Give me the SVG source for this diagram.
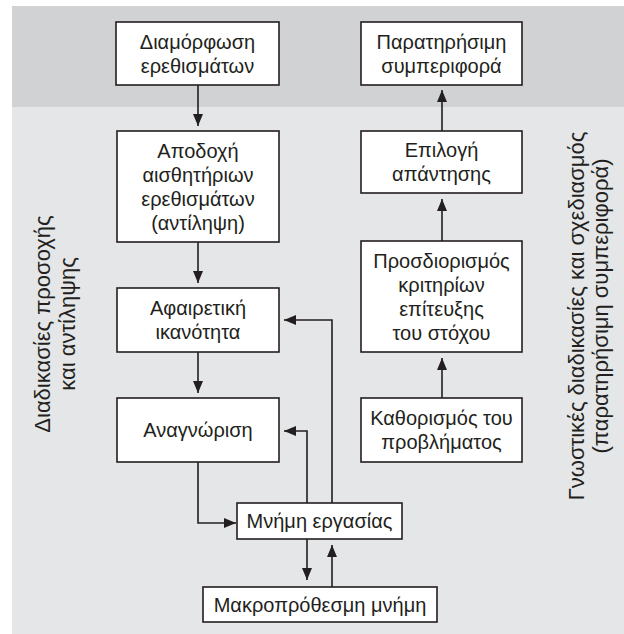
<svg xmlns="http://www.w3.org/2000/svg" width="624" height="634" viewBox="0 0 624 634">
<style>
.box{fill:#ffffff;stroke:#231f20;stroke-width:1.6}
.t{font-family:"Liberation Sans",Arial,sans-serif;font-size:20px;fill:#231f20;text-anchor:middle}
.side{font-family:"Liberation Sans",Arial,sans-serif;font-size:22px;fill:#231f20;text-anchor:middle}
.c{fill:none;stroke:#231f20;stroke-width:1.6}
</style>
<defs>
<marker id="ah" markerUnits="userSpaceOnUse" markerWidth="12" markerHeight="10" refX="12" refY="5" orient="auto">
<path d="M0,0 L12,5 L0,10 z" fill="#231f20"/>
</marker>
</defs>
<rect x="0" y="0" width="624" height="634" fill="#ffffff"/>
<rect x="12" y="6" width="612" height="628" fill="#e5e6e7"/>
<rect x="12" y="6" width="612" height="101" fill="#d1d2d4"/>

<g id="side-left">
<text class="side" transform="translate(50,324) rotate(-90)">Διαδικασίες προσοχής</text>
<text class="side" transform="translate(75,324) rotate(-90)">και αντίληψης</text>
</g>
<g id="side-right">
<text class="side" transform="translate(584,316) rotate(-90)">Γνωστικές διαδικασίες και σχεδιασμός</text>
<text class="side" transform="translate(608,306) rotate(-90)">(παρατηρήσιμη συμπεριφορά)</text>
</g>

<g id="connectors">
<path class="c" d="M198,85 V126" marker-end="url(#ah)"/>
<path class="c" d="M198,242 V283" marker-end="url(#ah)"/>
<path class="c" d="M198,352 V393" marker-end="url(#ah)"/>
<path class="c" d="M198,462 V523 H236" marker-end="url(#ah)"/>
<path class="c" d="M307,503 V431 H284" marker-end="url(#ah)"/>
<path class="c" d="M332,503 V320 H284" marker-end="url(#ah)"/>
<path class="c" d="M307,539 V580" marker-end="url(#ah)"/>
<path class="c" d="M332,587 V545" marker-end="url(#ah)"/>
<path class="c" d="M442,398 V358" marker-end="url(#ah)"/>
<path class="c" d="M442,241 V199" marker-end="url(#ah)"/>
<path class="c" d="M442,131 V90" marker-end="url(#ah)"/>
</g>

<g id="n-diamorfosi">
<rect class="box" x="116" y="22" width="163" height="63"/>
<text class="t" x="197.5" y="48.5">Διαμόρφωση</text>
<text class="t" x="197.5" y="72.5">ερεθισμάτων</text>
</g>
<g id="n-apodoxi">
<rect class="box" x="117" y="131" width="162" height="111"/>
<text class="t" x="198" y="157.5">Αποδοχή</text>
<text class="t" x="198" y="181.5">αισθητήριων</text>
<text class="t" x="198" y="205.5">ερεθισμάτων</text>
<text class="t" x="198" y="229.5">(αντίληψη)</text>
</g>
<g id="n-afairetiki">
<rect class="box" x="117" y="288" width="162" height="64"/>
<text class="t" x="198" y="315">Αφαιρετική</text>
<text class="t" x="198" y="339">ικανότητα</text>
</g>
<g id="n-anagnorisi">
<rect class="box" x="117" y="398" width="162" height="64"/>
<text class="t" x="198" y="437">Αναγνώριση</text>
</g>
<g id="n-mnimi-ergasias">
<rect class="box" x="237" y="503" width="165" height="36"/>
<text class="t" x="319.5" y="528">Μνήμη εργασίας</text>
</g>
<g id="n-makroprothesmi">
<rect class="box" x="203" y="587" width="234" height="35"/>
<text class="t" x="320" y="611.5">Μακροπρόθεσμη μνήμη</text>
</g>
<g id="n-paratirisimi">
<rect class="box" x="361" y="22" width="161" height="63"/>
<text class="t" x="441.5" y="48.5">Παρατηρήσιμη</text>
<text class="t" x="441.5" y="72.5">συμπεριφορά</text>
</g>
<g id="n-epilogi">
<rect class="box" x="361" y="131" width="161" height="62"/>
<text class="t" x="441.5" y="157">Επιλογή</text>
<text class="t" x="441.5" y="181">απάντησης</text>
</g>
<g id="n-prosdiorismos">
<rect class="box" x="361" y="241" width="161" height="111"/>
<text class="t" x="441.5" y="267.5">Προσδιορισμός</text>
<text class="t" x="441.5" y="291.5">κριτηρίων</text>
<text class="t" x="441.5" y="315.5">επίτευξης</text>
<text class="t" x="441.5" y="339.5">του στόχου</text>
</g>
<g id="n-kathorismos">
<rect class="box" x="361" y="398" width="161" height="64"/>
<text class="t" x="441.5" y="425">Καθορισμός του</text>
<text class="t" x="441.5" y="449">προβλήματος</text>
</g>
</svg>
